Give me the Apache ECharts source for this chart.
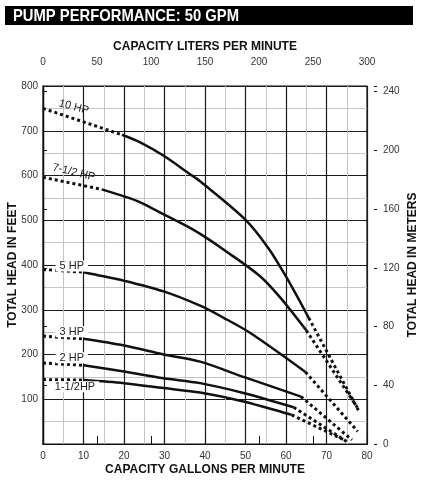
<!DOCTYPE html>
<html>
<head>
<meta charset="utf-8">
<script src="https://cdn.jsdelivr.net/npm/echarts@6/dist/echarts.min.js"></script>
<style>
  html, body { margin: 0; padding: 0; background: #fff; }
  #chart { width: 423px; height: 480px; }
</style>
</head>
<body>
<div id="chart"></div>
<script>
// capacity in gallons per minute, head in feet
const hp10Head = [[0, 750], [19.5, 691]];
const hp10Body = [[19.5, 691], [24, 674], [29.8, 644], [36.3, 603], [38.8, 587], [49.9, 502], [55.7, 437], [60.2, 371], [65.6, 282]];
const hp10Tail = [[65.6, 282], [78.2, 70]];

const hp75Head = [[0, 596], [14.5, 569]];
const hp75Body = [[14.5, 569], [19.8, 554], [24, 540], [29.8, 513], [36.3, 483], [39.6, 465], [45, 432], [53.6, 375], [58.6, 327], [65, 254]];
const hp75Tail = [[65, 254], [77.6, 82]];

const hp5Head = [[0, 390], [10, 384]];
const hp5Body = [[10, 384], [12.1, 380], [20, 365], [29.8, 341], [38.8, 309], [44.6, 282], [51.2, 248], [64.8, 161]];
const hp5Tail = [[64.8, 161], [77.7, 28]];

const hp3Head = [[0, 241], [10, 235]];
const hp3Body = [[10, 235], [20, 220], [29.8, 200], [38.8, 184], [49.5, 150], [63.7, 106]];
const hp3Tail = [[63.7, 106], [76.3, 9]];

const hp2Head = [[0, 181], [10, 176]];
const hp2Body = [[10, 176], [20, 162], [29.8, 147], [38.8, 136], [49.5, 114], [61.9, 82]];
const hp2Tail = [[61.9, 82], [75.4, 3]];

const hp15Head = [[0, 144], [10, 143]];
const hp15Body = [[10, 143], [20, 136], [29.8, 125], [38.8, 115], [49.5, 95], [61.4, 65]];
const hp15Tail = [[61.4, 65], [74.6, 8]];

// curve labels: text, gpm, feet, tilt
const curveLabels = [
  ['10 HP', 7.6, 753, -0.26],
  ['7-1/2 HP', 7.6, 607, -0.24],
  ['5 HP', 7.1, 398, 0],
  ['3 HP', 7.1, 251, 0],
  ['2 HP', 7.1, 193, 0],
  ['1-1/2HP', 7.9, 128, 0]
];

const FONT = 'Liberation Sans, Arial, sans-serif';
const FT_TO_M = 0.3048;

let myChart = echarts.init(document.getElementById('chart'));

function dotted(data) {
  return { type: 'line', data: data, symbol: 'none', silent: true, xAxisIndex: 0, yAxisIndex: 0,
    lineStyle: { color: '#111', width: 3, type: [3, 3], cap: 'butt' } };
}
function solid(data) {
  return { type: 'line', data: data, symbol: 'none', silent: true, smooth: 0.3,
    xAxisIndex: 0, yAxisIndex: 0, lineStyle: { color: '#111', width: 2.5 } };
}

let curves = [
  [hp10Head, hp10Body, hp10Tail],
  [hp75Head, hp75Body, hp75Tail],
  [hp5Head, hp5Body, hp5Tail],
  [hp3Head, hp3Body, hp3Tail],
  [hp2Head, hp2Body, hp2Tail],
  [hp15Head, hp15Body, hp15Tail]
];
let series = [];
curves.forEach(c => {
  series.push(dotted(c[0]));
  series.push(solid(c[1]));
  series.push(dotted(c[2]));
});

const nameStyle = { fontSize: 12, fontWeight: 'bold', color: '#111', fontFamily: FONT };

var option = {
  backgroundColor: '#fff',
  animation: false,
  textStyle: { fontFamily: FONT },
  grid: { left: 43, right: 56, top: 86, bottom: 36, containLabel: false, outerBoundsMode: 'none',
    show: true, borderColor: '#111', borderWidth: 1.2 },
  xAxis: [
    {
      type: 'value', position: 'bottom', min: 0, max: 80, interval: 10,
      name: 'CAPACITY GALLONS PER MINUTE', nameLocation: 'middle', nameGap: 20, nameMoveOverlap: false,
      nameTextStyle: nameStyle,
      axisLine: { lineStyle: { color: '#111', width: 1.2 } },
      axisTick: { show: false },
      axisLabel: { fontSize: 10, color: '#333', margin: 7, fontFamily: FONT },
      splitLine: { show: true, lineStyle: { color: '#1a1a1a', width: 1.2 } },
      minorTick: { show: false, splitNumber: 2 },
      minorSplitLine: { show: true, lineStyle: { color: '#c4c4c4', width: 1 } }
    },
    {
      type: 'value', position: 'top', min: 0, max: 300, interval: 50, offset: 8,
      name: 'CAPACITY LITERS PER MINUTE', nameLocation: 'middle', nameGap: 25, nameMoveOverlap: false,
      nameTextStyle: nameStyle,
      axisLine: { lineStyle: { color: '#111', width: 1.2 } },
      axisTick: { show: true, length: 8, lineStyle: { color: '#111' } },
      axisLabel: { fontSize: 10, color: '#333', margin: 11, fontFamily: FONT },
      splitLine: { show: false }
    }
  ],
  yAxis: [
    {
      type: 'value', position: 'left', min: 0, max: 800, interval: 100,
      name: 'TOTAL HEAD IN FEET', nameLocation: 'middle', nameGap: 24, nameRotate: 90, nameMoveOverlap: false,
      nameTextStyle: nameStyle,
      axisLine: { lineStyle: { color: '#111', width: 1.2 } },
      axisTick: { show: false },
      axisLabel: { fontSize: 10, color: '#333', margin: 5, fontFamily: FONT,
        formatter: v => (v === 0 ? '' : v) },
      splitLine: { show: true, lineStyle: { color: '#1a1a1a', width: 1.2 } },
      minorTick: { show: false, splitNumber: 2 },
      minorSplitLine: { show: true, lineStyle: { color: '#c4c4c4', width: 1 } }
    },
    {
      type: 'value', position: 'right', min: 0, max: 800 * FT_TO_M, interval: 40, offset: 10,
      name: 'TOTAL HEAD IN METERS', nameLocation: 'middle', nameGap: 30, nameRotate: 90, nameMoveOverlap: false,
      nameTextStyle: nameStyle,
      axisLine: { lineStyle: { color: '#111', width: 1.2 } },
      axisTick: { show: true, length: 4, lineStyle: { color: '#111' } },
      axisLabel: { fontSize: 10, color: '#333', margin: 6, fontFamily: FONT,
        formatter: v => (v % 40 === 0 ? v : '') },
      splitLine: { show: false }
    },
    {
      // inner half of the crossing ticks on the meters axis
      type: 'value', position: 'right', min: 0, max: 800 * FT_TO_M, interval: 40, offset: 10,
      axisLine: { show: false },
      axisTick: { show: true, inside: true, length: 3, lineStyle: { color: '#111' } },
      axisLabel: { show: false },
      splitLine: { show: false }
    }
  ],
  graphic: [
    { type: 'rect', shape: { x: 5, y: 6, width: 408, height: 19 }, style: { fill: '#000' } },
    { type: 'text', x: 13, y: 16.5, scaleX: 0.87, style: { text: 'PUMP PERFORMANCE: 50 GPM', fill: '#fff',
      font: 'bold 17px ' + FONT, verticalAlign: 'middle' } }
  ],
  series: series
};

myChart.setOption(option);

// place the curve names at their data positions
let labelGraphics = curveLabels.map(l => {
  let p = myChart.convertToPixel({ xAxisIndex: 0, yAxisIndex: 0 }, [l[1], l[2]]);
  return {
    type: 'text', x: p[0], y: p[1], rotation: l[3], z: 10,
    style: { text: l[0], fill: '#222', font: '11px ' + FONT, align: 'center', verticalAlign: 'middle',
      backgroundColor: l[3] === 0 ? '#fff' : 'transparent', padding: [0, 4] }
  };
});
myChart.setOption({ graphic: option.graphic.concat(labelGraphics) });
</script>
</body>
</html>
